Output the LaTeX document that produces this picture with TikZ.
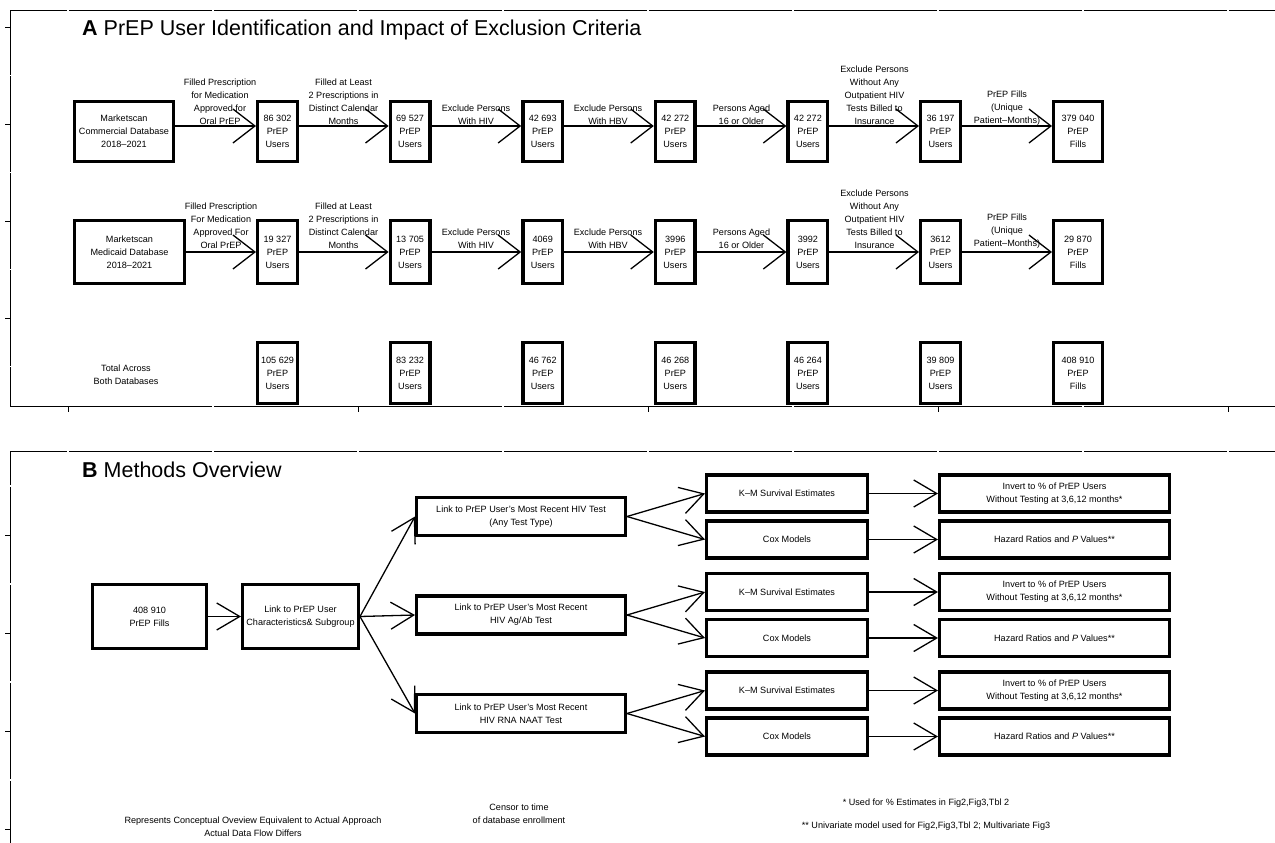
\documentclass[tikz,border=0pt]{standalone}
\usepackage{fontspec}
\setmainfont{Liberation Sans}
\newfontfamily\titlefont{Liberation Sans}
\usetikzlibrary{arrows.meta,calc}
\newcommand\smallfnt{\fontsize{9.1}{13}\selectfont}
\newcommand\titlefnt{\titlefont\fontsize{21.5}{24}\selectfont}
\begin{document}
\begin{tikzpicture}[x=1pt,y=-1pt,
  box/.style={draw, line width=3.4pt, inner sep=0pt, align=center, font=\smallfnt},
  nbox/.style={box, minimum width=39.6pt},
  lab/.style={inner sep=0pt, align=center, font=\smallfnt, anchor=south},
  txt/.style={inner sep=0pt, align=center, font=\smallfnt},
  arr/.style={line width=1.3pt, -{Straight Barb[length=22pt,width=34pt]}},
  arrb/.style={line width=1.3pt, -{Straight Barb[length=23pt,width=27pt]}},
  frameline/.style={line width=0.9pt},
  gapmark/.style={fill=white}
]
\fill[white] (0,0) rectangle (1275,843);
\useasboundingbox (0,0) rectangle (1275,843);

% ---------- frames ----------
\draw[frameline] (1275,10) -- (10,10) -- (10,406) -- (1275,406);
\draw[frameline] (1275,451) -- (10,451) -- (10,843);
\foreach \y in {27,124,221,318,535,633,731,829} \draw[frameline] (5,\y) -- (10,\y);
\foreach \x in {68,358,648,938,1228} \draw[frameline] (\x,406) -- (\x,412);
\foreach \x in {68,213,358,503,648,793,938,1083,1228} {
  \fill[gapmark] (\x-0.8,8.5) rectangle (\x+0.8,11.5);
  \fill[gapmark] (\x-0.8,449.5) rectangle (\x+0.8,452.5);
}
\foreach \x in {213,503,793,1083} \fill[gapmark] (\x-0.8,404.5) rectangle (\x+0.8,407.5);
\foreach \y in {75.5,172.5,269.5,366.5,486,584,682,780} \fill[gapmark] (8.5,\y-0.8) rectangle (11.5,\y+0.8);

% ---------- titles ----------
\node[anchor=base west, inner sep=0pt, font=\titlefnt] (titA) at (82,36) {\textbf{A} PrEP User Identification and Impact of Exclusion Criteria};
\node[anchor=base west, inner sep=0pt, font=\titlefnt] (titB) at (82,477) {\textbf{B} Methods Overview};

% ---------- panel A, row 1 ----------
\node[box, minimum width=98.6pt, minimum height=59.6pt] (a0) at (124,131.5) {Marketscan\\Commercial Database\\2018--2021};
\node[nbox, minimum height=59.6pt] (a1) at (277.5,131.5) {86 302\\PrEP\\Users};
\node[nbox, minimum height=59.6pt] (a2) at (410.1,131.5) {69 527\\PrEP\\Users};
\node[nbox, minimum height=59.6pt] (a3) at (542.7,131.5) {42 693\\PrEP\\Users};
\node[nbox, minimum height=59.6pt] (a4) at (675.3,131.5) {42 272\\PrEP\\Users};
\node[nbox, minimum height=59.6pt] (a5) at (807.9,131.5) {42 272\\PrEP\\Users};
\node[nbox, minimum height=59.6pt] (a6) at (940.5,131.5) {36 197\\PrEP\\Users};
\node[box, minimum width=48.6pt, minimum height=59.6pt] (a7) at (1078,131.5) {379 040\\PrEP\\Fills};

\node[lab] (la1) at (220,124.5) {Filled Prescription\\for Medication\\Approved for\\Oral PrEP};
\node[lab] (la2) at (343.5,124.5) {Filled at Least\\2 Prescriptions in\\Distinct Calendar\\Months};
\node[lab] (la3) at (476,124.5) {Exclude Persons\\With HIV};
\node[lab] (la4) at (608,124.5) {Exclude Persons\\With HBV};
\node[lab] (la5) at (741.5,124.5) {Persons Aged\\16 or Older};
\node[lab] (la6) at (874.5,124.5) {Exclude Persons\\Without Any\\Outpatient HIV\\Tests Billed to\\Insurance};
\node[lab] (la7) at (1007,126) {PrEP Fills\\(Unique\\Patient--Months)};

\foreach \s/\t in {a0/a1,a1/a2,a2/a3,a3/a4,a4/a5,a5/a6,a6/a7}
  \draw[arr] ([yshift=5.5pt]\s.east) -- ([yshift=5.5pt]\t.west);

% ---------- panel A, row 2 ----------
\node[box, minimum width=109.6pt, minimum height=62.6pt] (m0) at (129.5,252) {Marketscan\\Medicaid Database\\2018--2021};
\node[nbox, minimum height=62.6pt] (m1) at (277.5,252) {19 327\\PrEP\\Users};
\node[nbox, minimum height=62.6pt] (m2) at (410.1,252) {13 705\\PrEP\\Users};
\node[nbox, minimum height=62.6pt] (m3) at (542.7,252) {4069\\PrEP\\Users};
\node[nbox, minimum height=62.6pt] (m4) at (675.3,252) {3996\\PrEP\\Users};
\node[nbox, minimum height=62.6pt] (m5) at (807.9,252) {3992\\PrEP\\Users};
\node[nbox, minimum height=62.6pt] (m6) at (940.5,252) {3612\\PrEP\\Users};
\node[box, minimum width=48.6pt, minimum height=62.6pt] (m7) at (1078,252) {29 870\\PrEP\\Fills};

\node[lab] (lm1) at (221,248.5) {Filled Prescription\\For Medication\\Approved For\\Oral PrEP};
\node[lab] (lm2) at (343.5,248.5) {Filled at Least\\2 Prescriptions in\\Distinct Calendar\\Months};
\node[lab] (lm3) at (476,248.5) {Exclude Persons\\With HIV};
\node[lab] (lm4) at (608,248.5) {Exclude Persons\\With HBV};
\node[lab] (lm5) at (741.5,248.5) {Persons Aged\\16 or Older};
\node[lab] (lm6) at (874.5,248.5) {Exclude Persons\\Without Any\\Outpatient HIV\\Tests Billed to\\Insurance};
\node[lab] (lm7) at (1007,248.5) {PrEP Fills\\(Unique\\Patient--Months)};

\foreach \s/\t in {m0/m1,m1/m2,m2/m3,m3/m4,m4/m5,m5/m6,m6/m7}
  \draw[arr] (\s.east) -- (\t.west);

% ---------- panel A, totals ----------
\node[txt] (tot) at (126,375) {Total Across\\Both Databases};
\node[nbox, minimum height=60.6pt] (t1) at (277.5,373) {105 629\\PrEP\\Users};
\node[nbox, minimum height=60.6pt] (t2) at (410.1,373) {83 232\\PrEP\\Users};
\node[nbox, minimum height=60.6pt] (t3) at (542.7,373) {46 762\\PrEP\\Users};
\node[nbox, minimum height=60.6pt] (t4) at (675.3,373) {46 268\\PrEP\\Users};
\node[nbox, minimum height=60.6pt] (t5) at (807.9,373) {46 264\\PrEP\\Users};
\node[nbox, minimum height=60.6pt] (t6) at (940.5,373) {39 809\\PrEP\\Users};
\node[box, minimum width=48.6pt, minimum height=60.6pt] (t7) at (1078,373) {408 910\\PrEP\\Fills};

% ---------- panel B ----------
\node[box, minimum width=113.6pt, minimum height=63.6pt] (b0) at (149.5,616.5) {408 910\\PrEP Fills};
\node[box, minimum width=115.6pt, minimum height=63.6pt] (b1) at (300.5,616.5) {Link to PrEP User\\Characteristics\& Subgroup};
\node[box, minimum width=208.6pt, minimum height=38pt] (q1) at (521,516.5) {Link to PrEP User's Most Recent HIV Test\\(Any Test Type)};
\node[box, minimum width=208.6pt, minimum height=38pt] (q2) at (521,615) {Link to PrEP User's Most Recent\\HIV Ag/Ab Test};
\node[box, minimum width=208.6pt, minimum height=38pt] (q3) at (521,713.5) {Link to PrEP User's Most Recent\\HIV RNA NAAT Test};

\foreach \i/\y in {1/516.5,2/615,3/713.5}{
  \node[box, minimum width=160.6pt, minimum height=37pt] (km\i) at (787,\y-23) {K--M Survival Estimates};
  \node[box, minimum width=160.6pt, minimum height=37pt] (cox\i) at (787,\y+23) {Cox Models};
  \node[box, minimum width=229.6pt, minimum height=37pt] (inv\i) at (1054.5,\y-23) {Invert to \% of PrEP Users\\Without Testing at 3,6,12 months*};
  \node[box, minimum width=229.6pt, minimum height=37pt] (haz\i) at (1054.5,\y+23) {Hazard Ratios and \textit{P} Values**};
  \draw[arrb] (q\i.east) -- (km\i.west);
  \draw[arrb] (q\i.east) -- (cox\i.west);
  \draw[arrb] (km\i.east) -- (inv\i.west);
  \draw[arrb] (cox\i.east) -- (haz\i.west);
}
\draw[arrb] (b0.east) -- (b1.west);
\draw[arrb] (b1.east) -- (q1.west);
\draw[arrb] (b1.east) -- (q2.west);
\draw[arrb] (b1.east) -- (q3.west);

% ---------- notes ----------
\node[txt] (n1) at (253,826.5) {Represents Conceptual Oveview Equivalent to Actual Approach\\Actual Data Flow Differs};
\node[txt] (n2) at (519,813.5) {Censor to time\\of database enrollment};
\node[txt] (n3) at (926,803) {* Used for \% Estimates in Fig2,Fig3,Tbl 2};
\node[txt] (n4) at (926,826) {** Univariate model used for Fig2,Fig3,Tbl 2; Multivariate Fig3};
\end{tikzpicture}
\end{document}
